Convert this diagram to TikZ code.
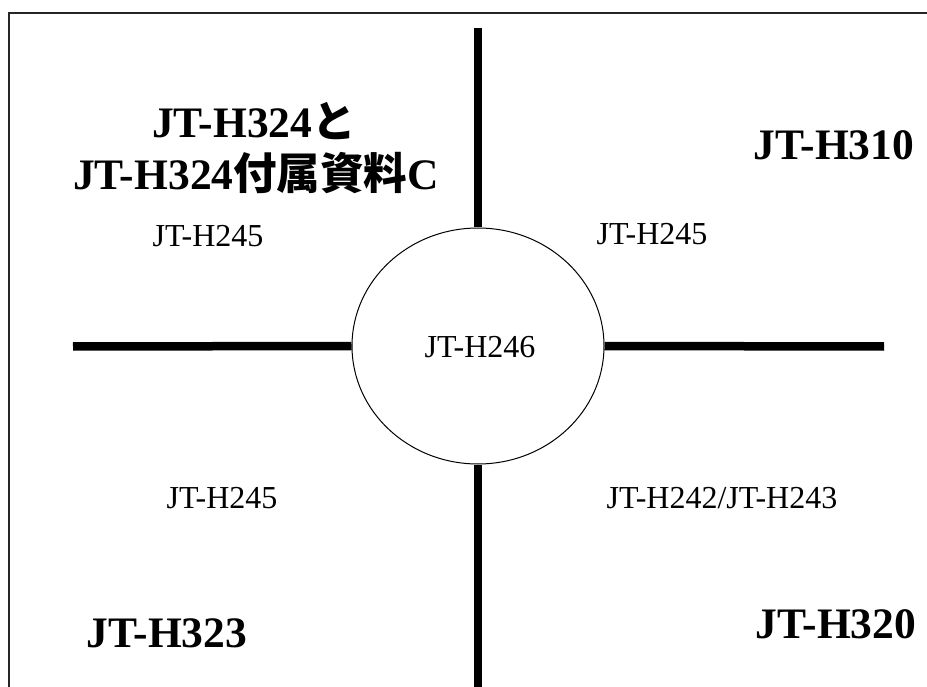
\documentclass[tikz,border=0pt]{standalone}
\usepackage{fontspec}
\setmainfont{Liberation Serif}
\newfontfamily\cjk{Noto Sans CJK JP}
\usetikzlibrary{shapes.geometric}
\begin{document}
\begin{tikzpicture}[x=1pt,y=-1pt,
  bar/.style={line width=8.5pt},
  frame/.style={line width=1.2pt, draw=black!85},
  small/.style={font=\fontsize{32}{38}\selectfont, anchor=base, inner sep=0pt},
  big/.style={font=\fontsize{43.5}{50}\selectfont\bfseries, anchor=base, inner sep=0pt}]
\useasboundingbox (0,0) rectangle (927,687);
\draw[frame] (9,687) -- (9,13) -- (927,13);
\node[ellipse, draw, line width=1pt, minimum width=252pt, minimum height=236pt, inner sep=0pt] (hub) at (478,346) {};
\coordinate (topend) at (478,28);
\coordinate (botend) at (478,687);
\coordinate (leftend) at (73,346.5);
\coordinate (rightend) at (884,346.5);
\draw[bar] (hub.north) -- (topend);
\draw[bar] (hub.south) -- (botend);
\draw[bar] (hub.west) -- (leftend);
\draw[bar] (hub.east) -- (rightend);
\node[small] (h246) at (480,357) {JT-H246};
\node[small] (h245a) at (208,247) {JT-H245};
\node[small] (h245b) at (652,245) {JT-H245};
\node[small] (h245c) at (222,508) {JT-H245};
\node[small] (h242) at (722,508) {JT-H242/JT-H243};
\node[big] (h324a) at (254,138) {JT-H324{\cjk\bfseries と}};
\node[big] (h324b) at (256,190) {JT-H324{\cjk\bfseries 付属資料}C};
\node[big] (h310) at (834,160) {JT-H310};
\node[big] (h323) at (167,647) {JT-H323};
\node[big] (h320) at (836,638) {JT-H320};
\end{tikzpicture}
\end{document}
